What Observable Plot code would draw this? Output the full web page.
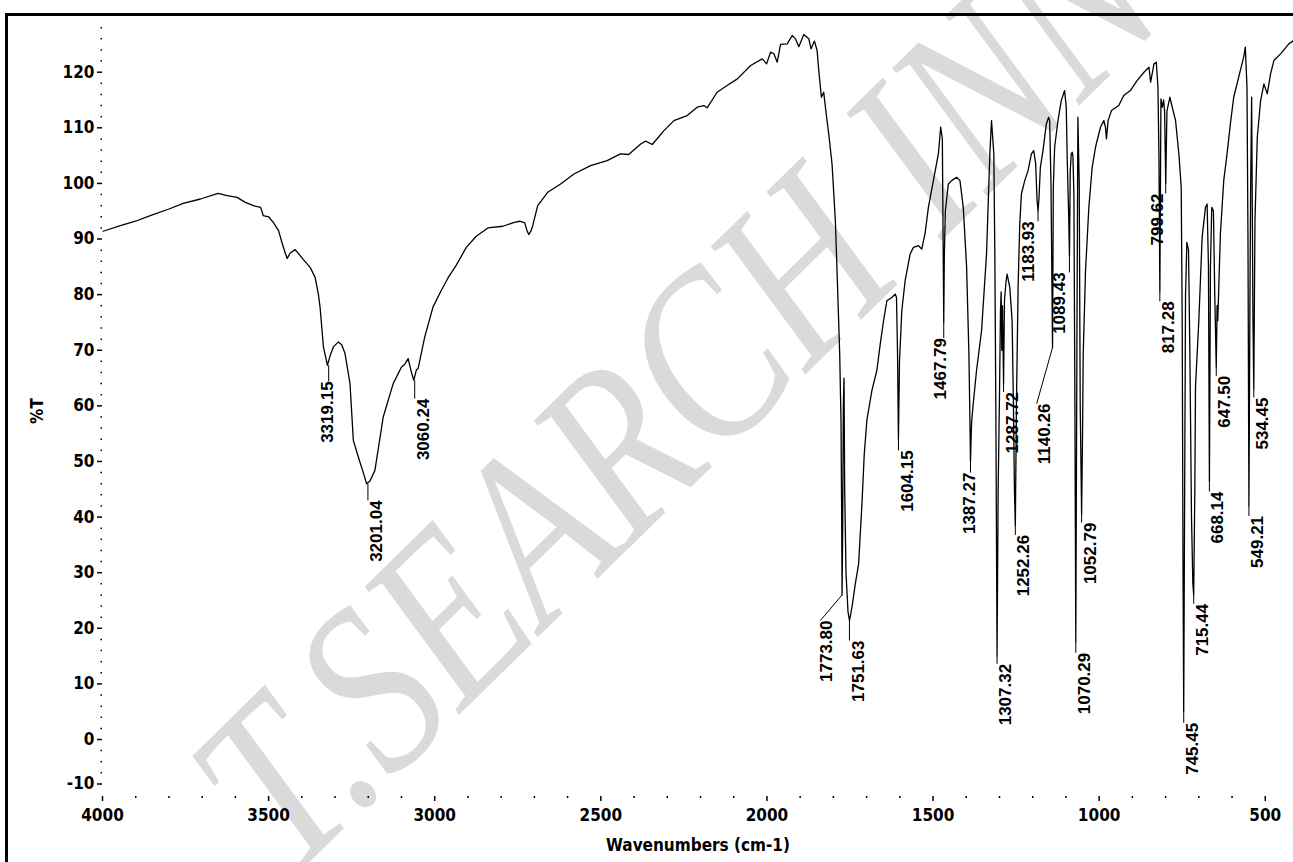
<!DOCTYPE html>
<html>
<head>
<meta charset="utf-8">
<script src="https://cdn.jsdelivr.net/npm/d3@7"></script>
<script src="https://cdn.jsdelivr.net/npm/@observablehq/plot@0.6"></script>
<style>
  html, body { margin: 0; padding: 0; background: #fff; }
  #wrap { position: relative; width: 1293px; height: 862px; overflow: hidden; }
  #frame { position: absolute; left: 5px; top: 13px; width: 2000px; height: 2000px;
           border-left: 3px solid #000; border-top: 3px solid #000; box-sizing: border-box; pointer-events: none; }
  #chart { position: absolute; left: 0; top: 0; }
</style>
</head>
<body>
<div id="wrap"><div id="chart"></div><div id="frame"></div></div>
<script>
// ---- spectrum (wavenumber cm-1, %T) ----
const wavenumber = [3998,3946,3901,3856,3800,3757,3705,3652,3625,3595,3570,3546,3524,3516,3500,3486,3470,3459,3450,3444,3435,3420,3394,3375,3360,3350,3345,3335,3323,3315,3305,3290,3280,3270,3255,3245,3230,3215,3205,3195,3180,3155,3125,3100,3090,3080,3070,3063,3055,3050,3030,3005,2980,2960,2935,2905,2875,2840,2795,2760,2744,2729,2722,2717,2710,2705,2690,2660,2621,2581,2531,2481,2441,2416,2380,2365,2345,2310,2280,2240,2210,2190,2180,2150,2120,2089,2049,2014,2001,1989,1979,1969,1959,1939,1924,1914,1904,1889,1874,1867,1857,1849,1844,1836,1829,1824,1814,1804,1794,1789,1781,1777,1775,1773.8,1772,1770,1768,1766,1762,1756,1751.6,1748,1744,1734,1724,1714,1707,1699,1684,1669,1659,1649,1639,1624,1614,1610,1607,1604.2,1601,1594,1584,1569,1559,1544,1534,1524,1514,1499,1484,1477,1472,1467.8,1466,1463,1454,1444,1429,1419,1409,1399,1392,1389,1387.3,1384,1379,1369,1354,1339,1329,1324,1317,1314,1311,1307.3,1304,1300,1297,1295,1293,1291,1287.7,1285,1280,1277,1269,1262,1258,1255,1252.3,1249,1244,1239,1234,1224,1214,1204,1197,1191,1187,1183.9,1181,1177,1169,1159,1152,1149,1145,1140.3,1138,1134,1124,1114,1104,1099,1096,1092,1089.4,1087,1084,1081,1079,1076,1073,1070.3,1067,1064,1060,1057,1052.8,1050,1048,1041,1031,1021,1011,996,986,981,978,973,963,941,926,906,886,865,850,845,835,828,823,820,817.3,814,810,806,803,799.6,796,787,780,770,760,753,750,747.5,745.5,743,740,736,731,727,722,718,715.4,712,710,700,690,680,675,671,668.1,665,661,656,652,647.5,645,643,635,625,615,605,595,580,565,560,555,552,549.2,546,544,541,537,534.5,531,524,514,504,494,484,474,454,429,415];
const transmittance = [91.4,92.4,93.2,94.2,95.4,96.4,97.2,98.2,97.8,97.5,96.6,96.0,95.7,94.2,94.0,93.0,91.5,89.2,87.5,86.5,87.5,88.1,86.2,84.9,83.1,80.0,77.7,70.6,67.3,69.0,70.6,71.5,71.0,69.4,64.0,53.8,50.8,48.0,46.0,46.5,48.4,58.0,64.0,67.0,67.5,68.5,66.0,64.6,66.5,66.7,72.4,77.8,80.8,83.0,85.3,88.5,90.5,92.0,92.3,93.0,93.2,92.9,91.5,90.8,91.5,92.4,96.0,98.4,99.9,101.7,103.2,104.1,105.3,105.2,107.1,107.6,107.0,109.5,111.3,112.2,113.7,114.0,113.6,116.4,117.6,118.8,121.2,122.4,121.5,123.6,123.3,121.8,125.0,125.1,126.6,126.0,124.6,126.8,126.0,124.2,125.6,123.9,120.3,115.5,116.4,113.7,108.9,103.5,93.3,84.3,69.4,57.0,40.0,26.0,38.0,60.0,65.0,45.0,30.0,23.0,21.4,22.5,23.8,28.0,31.6,42.4,51.4,57.5,62.8,66.4,71.1,75.3,78.9,79.5,80.1,79.5,70.0,54.0,68.0,77.1,82.5,87.3,88.5,88.8,88.2,91.0,95.7,100.5,105.3,110.1,108.0,75.0,87.0,95.0,99.9,100.5,101.1,100.5,95.7,85.0,69.3,57.4,50.0,57.0,60.4,66.4,73.5,87.3,105.3,111.3,105.3,87.3,60.0,15.0,45.0,62.0,77.0,80.5,70.0,78.0,64.0,79.0,82.5,83.7,81.3,75.3,60.0,45.0,38.5,60.0,81.3,92.7,98.1,100.5,102.3,105.3,105.9,103.5,97.0,95.0,97.5,102.9,105.9,110.7,111.9,111.3,100.0,70.5,99.3,106.5,111.3,114.9,116.7,113.7,104.1,95.0,87.0,102.3,105.3,105.6,105.0,98.0,60.0,17.5,70.0,111.9,100.0,60.0,40.5,55.0,69.3,84.3,95.7,102.9,106.5,110.1,111.3,110.1,108.0,111.3,113.1,114.0,115.8,116.7,118.5,120.0,120.9,118.2,121.5,121.8,117.3,105.0,80.5,115.2,113.7,115.0,113.0,100.0,113.0,115.5,113.7,111.3,105.3,99.3,75.0,30.0,5.0,40.0,80.0,89.4,88.0,70.0,40.0,28.0,26.0,45.0,63.4,75.3,90.3,95.7,96.3,85.0,46.5,85.0,95.7,95.1,80.0,67.0,78.0,75.3,91.0,100.5,105.3,110.7,115.5,119.1,122.7,124.5,117.3,90.0,42.0,80.0,99.3,115.5,75.3,63.0,93.3,108.3,114.9,117.9,116.1,119.7,122.1,123.3,125.1,125.7];

// ---- peak annotations ----
const peakLabels = ["3319.15","3201.04","3060.24","1773.80","1751.63","1604.15","1467.79","1387.27","1307.32","1287.72","1252.26","1183.93","1140.26","1089.43","1070.29","1052.79","817.28","799.62","745.45","715.44","668.14","647.50","549.21","534.45"];
const peakWn    = [3319.15,3201.04,3060.24,1773.80,1751.63,1604.15,1467.79,1387.27,1307.32,1287.72,1252.26,1183.93,1140.26,1089.43,1070.29,1052.79,817.28,799.62,745.45,715.44,668.14,647.50,549.21,534.45];
const peakT     = [67.3,46.0,64.6,26.0,21.4,54.0,75.0,50.0,15.0,64.0,38.5,95.0,70.5,87.0,17.5,40.5,80.5,100.0,5.0,26.0,46.5,67.0,42.0,63.0];
// where each leader line ends, and where its label sits
const leaderWn  = [3319.15,3201.04,3060.24,1839,1751.63,1604.15,1467.79,1387.27,1307.32,1287.72,1252.26,1183.93,1188,1089.43,1070.29,1052.79,817.28,799.62,745.45,715.44,668.14,647.50,549.21,534.45];
const labelWn   = [3350,3201.04,3060.24,1848,1751.63,1604.15,1502,1417,1307.32,1287.72,1252.26,1237,1191,1146,1070.29,1052.79,817.28,851,745.45,715.44,668.14,647.50,549.21,534.45];
const labelT    = [64.4,43.0,61.3,21.4,17.8,52.0,72.2,48.0,13.6,62.5,36.8,93.2,60.4,84.0,15.6,39.0,78.8,98.2,3.0,24.4,44.6,65.4,40.2,61.5];

// ---- axis ticks ----
const xMajorTicks = [4000,3500,3000,2500,2000,1500,1000,500];
const xMinorTicks = [3900,3800,3700,3600,3400,3300,3200,3100,2900,2800,2700,2600,2400,2300,2200,2100,1900,1800,1700,1600,1400,1300,1200,1100,900,800,700,600];
const yTickValues = [-8,0,10,20,30,40,50,60,70,80,90,100,110,120];
const yTickLabels = ["-10","0","10","20","30","40","50","60","70","80","90","100","110","120"];
const yMinorTicks = [-6,-4,-2,2,4,6,8,12,14,16,18,22,24,26,28,32,34,36,38,42,44,46,48,52,54,56,58,62,64,66,68,72,74,76,78,82,84,86,88,92,94,96,98,102,104,106,108,112,114,116,118,122,124,126,128];

const spectrum = wavenumber.map((w, i) => ({w, t: transmittance[i]}));
const peaks = peakLabels.map((s, i) => ({s, w: peakWn[i], t: peakT[i], ew: leaderWn[i], lw: labelWn[i], lt: labelT[i]}));

const axisFont = "'Liberation Sans Narrow','Arial Narrow','DejaVu Sans Condensed','Liberation Sans',sans-serif";

const chart = Plot.plot({
  width: 1293,
  height: 862,
  marginLeft: 102,
  marginRight: 0,
  marginTop: 25,
  marginBottom: 66,
  style: {background: "transparent", overflow: "visible", fontFamily: "'Liberation Sans',Arial,sans-serif"},
  x: {domain: [4000, 415]},
  y: {domain: [-10.25, 128.4]},
  marks: [
    Plot.axisX({ticks: xMinorTicks, tickSize: 2, strokeWidth: 1.5, tickFormat: () => "", label: null}),
    Plot.axisX({ticks: xMajorTicks, tickSize: 5, strokeWidth: 1.5, tickPadding: 7,
      tickFormat: d => String(d), fontSize: 17, fontWeight: "bold", fontFamily: axisFont,
      label: "Wavenumbers (cm-1)", labelAnchor: "center", labelArrow: "none", labelOffset: 54}),
    Plot.axisY({ticks: yMinorTicks, tickSize: 1.5, strokeWidth: 1.5, tickFormat: () => "", label: null}),
    Plot.axisY({ticks: yTickValues, tickSize: 5, strokeWidth: 1.5, tickPadding: 3,
      tickFormat: d => yTickLabels[yTickValues.indexOf(d)], fontSize: 17, fontWeight: "bold", fontFamily: axisFont,
      label: "%T", labelAnchor: "center", labelArrow: "none", labelOffset: 72}),
    Plot.line(spectrum, {x: "w", y: "t", stroke: "#000", strokeWidth: 1.3}),
    Plot.link(peaks, {x1: "w", y1: "t", x2: "ew", y2: "lt", stroke: "#000", strokeWidth: 1}),
    Plot.text(peaks, {x: "lw", y: "lt", text: "s", rotate: -90, textAnchor: "end", lineAnchor: "top",
      dx: 2, fontSize: 17, fontWeight: "bold", fill: "#000"})
  ]
});

// light watermark behind the plot
d3.select(chart).insert("text", ":first-child")
  .attr("transform", "translate(290,881) rotate(-44.5) scale(1.05,1.3)")
  .attr("text-anchor", "start")
  .attr("font-family", "'Liberation Serif','DejaVu Serif',serif")
  .attr("font-style", "italic")
  .attr("font-size", 185)
  .attr("fill", "#dadada")
  .text("T.SEARCH INNOVA");

document.getElementById("chart").appendChild(chart);
</script>
</body>
</html>
